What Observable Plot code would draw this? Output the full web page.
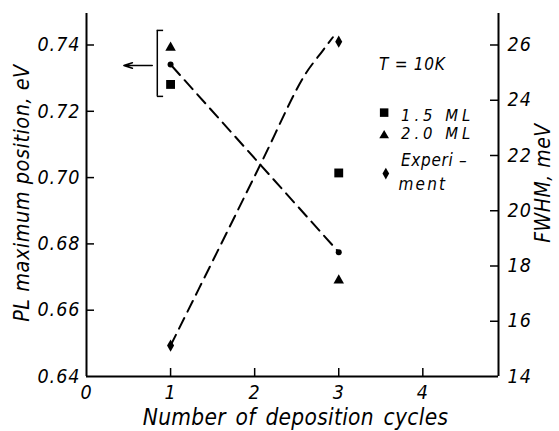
<!DOCTYPE html>
<html><head><meta charset="utf-8">
<script src="https://cdn.jsdelivr.net/npm/d3@7"></script>
<script src="https://cdn.jsdelivr.net/npm/@observablehq/plot@0.6"></script>
<style>
html,body{margin:0;padding:0;background:#fff;}
g[aria-description="tick-labels"] text{letter-spacing:1px;}
g[aria-description="title-x"] text{letter-spacing:0.3px;word-spacing:3px;}
g[aria-description="title-left"] text{letter-spacing:0.5px;}
g[aria-description="title-right"] text{letter-spacing:0.5px;}
g[aria-description="legend-text"] text{letter-spacing:0.7px;}
g[aria-description="legend-items"] text{letter-spacing:4px;}
g[aria-description="legend-ment"] text{letter-spacing:2.2px;}
</style></head><body><div id="chart"></div>
<script>
// ---- data ----
const cycles = [1, 3];
const pl15ML = [0.7281, 0.7014];   // squares (eV)
const pl20ML = [0.7392, 0.6690];   // triangles (eV)
const plExp  = [0.7341, 0.6775];   // circles, experiment (eV)
const fwhmExp = [15.12, 26.12];    // diamonds, experiment (meV)
const fwhmCurveX = [1.0, 1.556, 2.092, 2.583, 2.806, 2.93];
const fwhmCurveY = [15.12, 18.52, 21.82, 24.85, 25.78, 26.28];
const xTicks = [0, 1, 2, 3, 4];
const plTicks = [0.64, 0.66, 0.68, 0.70, 0.72, 0.74];
const fwhmTicks = [14, 16, 18, 20, 22, 24, 26];
const legendLabels = ["1.5 ML", "2.0 ML", "Experi –", "ment"];
const tempLabel = "T = 10K";
const xTitle = "Number of deposition cycles";
const leftTitle = "PL maximum position, eV";
const rightTitle = "FWHM, meV";

// ---- layout ----
const xDomain = [0, 4.9];
const yDomain = [0.64, 0.7495];
const W = 559, H = 431, mL = 86, mR = 61, mT = 13, mB = 55;
const xPerPx = (xDomain[1] - xDomain[0]) / (W - mL - mR);
const yPerPx = (yDomain[1] - yDomain[0]) / (H - mT - mB);
const toEV = f => 0.64 + (f - 14) * 0.1 / 12;
const FONT = "'Liberation Sans Narrow', 'DejaVu Sans Condensed', 'Liberation Sans', sans-serif";
const dash = "12,7";

// annotation (bracket + arrow) in data units
const bracket = {x: 0.842, xTip: 0.917, yTop: 0.7444, yBot: 0.7245};
const arrowA = {x1: 0.782, x2: 0.444, y: 0.7338};
// legend anchors in data units
const legendX = 3.54, legendTextX = 3.74, mentX = 3.71;
const legendY = [0.7196, 0.7127, 0.7012];
const legendTextY = [0.7187, 0.7131, 0.7050, 0.6978];
const tempPos = {x: 3.48, y: 0.7342};

const fwhmCurve = fwhmCurveX.map((x, i) => ({x, y: toEV(fwhmCurveY[i])}));
const plCurve = cycles.map((x, i) => ({x, y: plExp[i]}));

const chart = Plot.plot({
  width: W, height: H,
  marginLeft: mL, marginRight: mR, marginTop: mT, marginBottom: mB,
  x: {domain: xDomain, axis: null},
  y: {domain: yDomain, axis: null},
  style: {fontFamily: FONT, fontStyle: "italic", background: "white", color: "black", overflow: "visible"},
  marks: [
    // frame lines (left, right, bottom)
    Plot.ruleX(xDomain, {y1: yDomain[0], y2: yDomain[1], strokeWidth: 2}),
    Plot.ruleY([yDomain[0]], {x1: xDomain[0], x2: xDomain[1], strokeWidth: 2}),
    // inward ticks
    Plot.ruleX(xTicks.filter(d => d > 0), {x: d => d, y1: yDomain[0], y2: yDomain[0] + 8 * yPerPx, strokeWidth: 1.5}),
    Plot.ruleY(plTicks.filter(d => d > 0.64), {y: d => d, x1: xDomain[0], x2: xDomain[0] + 8 * xPerPx, strokeWidth: 1.5}),
    Plot.ruleY(fwhmTicks.filter(d => d > 14), {y: d => toEV(d), x1: xDomain[1] - 8 * xPerPx, x2: xDomain[1], strokeWidth: 1.5}),
    // tick labels
    Plot.text(xTicks, {x: d => d, y: yDomain[0], dy: 16, text: d => String(d), fontSize: 19.5, ariaDescription: "tick-labels"}),
    Plot.text(plTicks, {x: xDomain[0], y: d => d, dx: -6, textAnchor: "end", text: d => d.toFixed(2), fontSize: 19.5, ariaDescription: "tick-labels"}),
    Plot.text(fwhmTicks, {x: xDomain[1], y: d => toEV(d), dx: 9, textAnchor: "start", text: d => String(d), fontSize: 19.5, ariaDescription: "tick-labels"}),
    // titles
    Plot.text([xTitle], {frameAnchor: "bottom", textAnchor: "middle", dx: 3, dy: 48, fontSize: 22.5, ariaDescription: "title-x"}),
    Plot.text([leftTitle], {frameAnchor: "left", textAnchor: "middle", rotate: -90, dx: -64, dy: -2, fontSize: 21.5, ariaDescription: "title-left"}),
    Plot.text([rightTitle], {frameAnchor: "right", textAnchor: "middle", rotate: -90, dx: 45, dy: -12, fontSize: 21, ariaDescription: "title-right"}),
    // dashed curves
    Plot.line(plCurve, {x: "x", y: "y", strokeWidth: 2, strokeDasharray: dash, strokeDashoffset: -2}),
    Plot.line(fwhmCurve, {x: "x", y: "y", curve: "catmull-rom", strokeWidth: 2, strokeDasharray: dash}),
    // points
    Plot.dot(cycles, {x: d => d, y: (d, i) => pl15ML[i], symbol: "square", r: 5, fill: "black", stroke: null}),
    Plot.dot(cycles, {x: d => d, y: (d, i) => pl20ML[i], symbol: "triangle", r: 3.9, fill: "black", stroke: null}),
    Plot.dot(cycles, {x: d => d, y: (d, i) => plExp[i], symbol: "circle", r: 3, fill: "black", stroke: null}),
    Plot.dot(cycles, {x: d => d, y: (d, i) => toEV(fwhmExp[i]), symbol: "diamond", r: 3.7, fill: "black", stroke: null}),
    // bracket and arrow
    Plot.ruleX([bracket.x], {x: d => d, y1: bracket.yBot, y2: bracket.yTop, strokeWidth: 1.5}),
    Plot.ruleY([bracket.yTop, bracket.yBot], {y: d => d, x1: bracket.x, x2: bracket.xTip, strokeWidth: 1.5}),
    Plot.arrow([arrowA], {x1: "x1", x2: "x2", y1: "y", y2: "y", strokeWidth: 1.5, headLength: 9, headAngle: 35}),
    // legend
    Plot.text([tempLabel], {x: tempPos.x, y: tempPos.y, textAnchor: "start", fontSize: 17, ariaDescription: "legend-text"}),
    Plot.dot([0], {x: legendX, y: legendY[0], symbol: "square", r: 4.8, fill: "black", stroke: null}),
    Plot.dot([0], {x: legendX, y: legendY[1], symbol: "triangle", r: 3.6, fill: "black", stroke: null}),
    Plot.dot([0], {x: legendX + 0.02, y: legendY[2], symbol: "diamond", r: 3.5, fill: "black", stroke: null}),
    Plot.text(legendLabels.slice(0, 2), {x: legendTextX, y: (d, i) => legendTextY[i], textAnchor: "start", text: d => d, fontSize: 16.5, ariaDescription: "legend-items"}),
    Plot.text([legendLabels[2]], {x: legendTextX, y: legendTextY[2], textAnchor: "start", fontSize: 17, ariaDescription: "legend-text"}),
    Plot.text([legendLabels[3]], {x: mentX, y: legendTextY[3], textAnchor: "start", fontSize: 17, ariaDescription: "legend-ment"})
  ]
});
document.getElementById("chart").appendChild(chart);
</script></body></html>
